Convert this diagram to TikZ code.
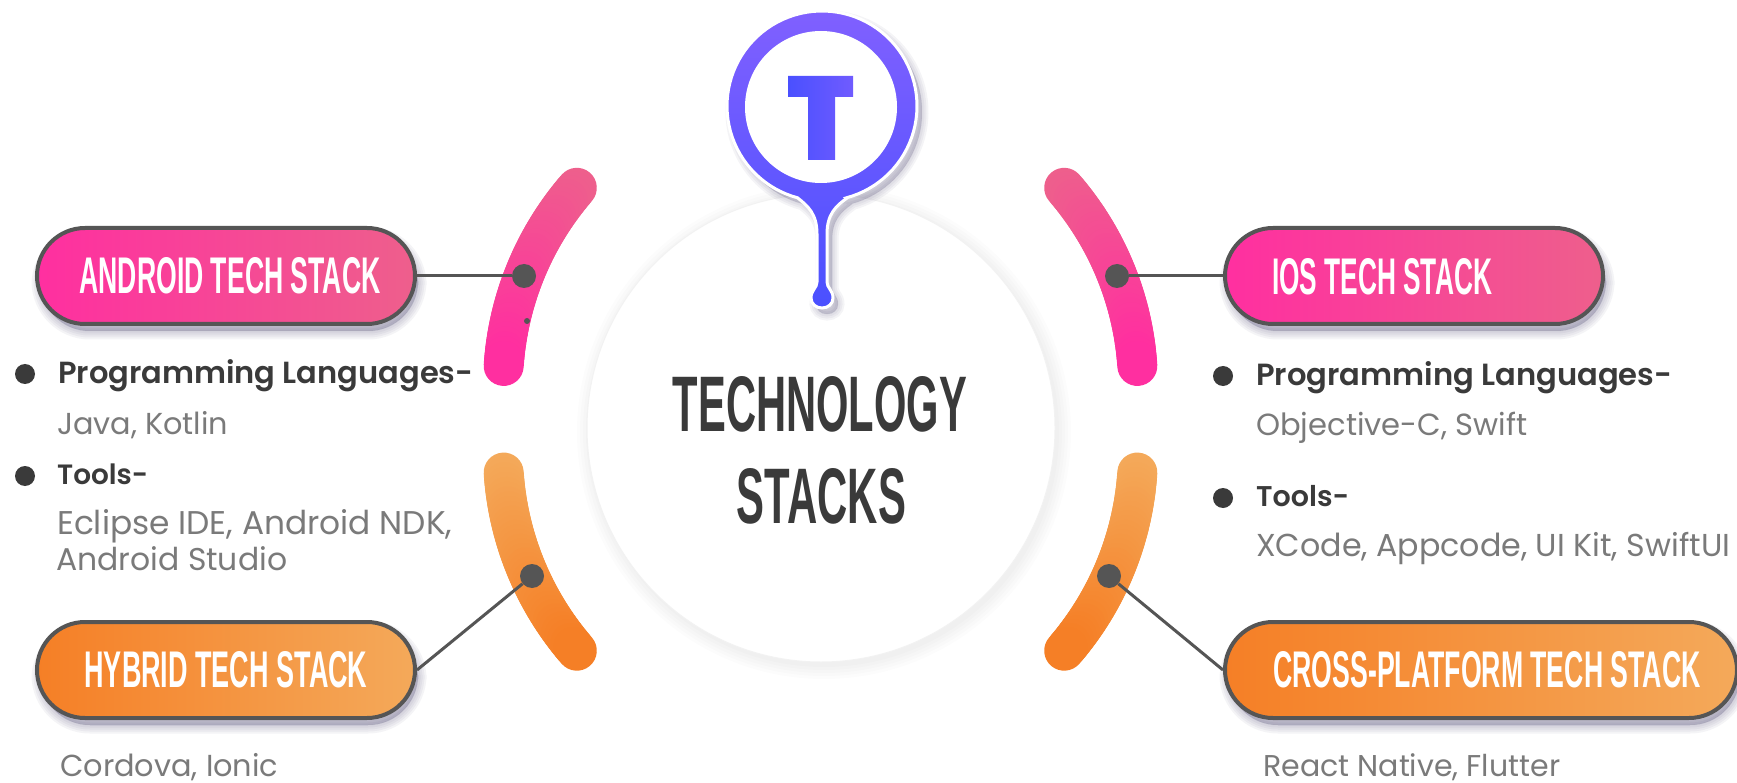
\documentclass[tikz,border=0pt]{standalone}
\usepackage{fontspec}
\usepackage{graphicx}
\setmainfont[BoldFont={Poppins SemiBold}]{Poppins}
\newfontfamily\condfont{Liberation Sans}
\usetikzlibrary{shapes.misc}
\definecolor{pinkL}{HTML}{FF2FA0}
\definecolor{pinkR}{HTML}{EE5F8C}
\definecolor{orngL}{HTML}{F57F26}
\definecolor{orngR}{HTML}{F4A95A}
\definecolor{edgeC}{HTML}{555555}
\definecolor{inkC}{HTML}{3A3A3A}
\definecolor{softC}{HTML}{7A7A7A}
\definecolor{pinT}{HTML}{8060FF}
\definecolor{pinB}{HTML}{4A50FF}
\definecolor{shadeC}{HTML}{4A4470}
\newcommand{\fitw}[2]{\resizebox{#1pt}{!}{#2}}
\newcommand{\capfit}[3]{\resizebox{#1pt}{#2pt}{\condfont\bfseries #3}}
\newcommand{\gradarc}[7]{%
  \foreach \i in {0,...,39}{%
    \pgfmathsetmacro\pa{#4+(#5-#4)*\i/40}%
    \pgfmathsetmacro\pb{#4+(#5-#4)*(\i+1)/40}%
    \pgfmathsetmacro\mixv{100*\i/39}%
    \draw[arcseg,color={#7!\mixv!#6}] ({#1+#3*cos(\pa)},{#2+#3*sin(\pa)}) -- ({#1+#3*cos(\pb)},{#2+#3*sin(\pb)});
  }}
\newcommand{\pillshadow}[4]{%
  \foreach \w in {1,5,9,13,17}{%
    \fill[shadeC,opacity=.06,rounded corners=50pt,shift={(3,7)},line width=\w pt,draw=shadeC] (#1,#2) rectangle (#3,#4);
  }}
\newcommand{\pinoutline}{plot[domain=75:-255,samples=90] ({822+95*cos(\x)},{106+95*sin(\x)}) .. controls (808,206) and (817,214) .. (817,234) -- (817,282) .. controls (817,288) and (811,290) .. (811,298) .. controls (811,304) and (816,308) .. (822,308) .. controls (828,308) and (833,304) .. (833,298) .. controls (833,290) and (827,288) .. (827,282) -- (827,234) .. controls (827,214) and (836,206) .. (847,198) -- cycle}
\tikzset{
  arcseg/.style={line width=40pt,line cap=round},
  pillbase/.style={draw=edgeC,line width=4pt,rounded rectangle,inner sep=0pt,minimum height=96pt},
  pinkpill/.style={pillbase,left color=pinkL,right color=pinkR},
  orngpill/.style={pillbase,left color=orngL,right color=orngR},
  knob/.style={circle,fill=edgeC,inner sep=0pt,minimum size=24pt},
  wire/.style={draw=edgeC,line width=3pt},
  pilltext/.style={inner sep=0pt,text=white},
  head/.style={inner sep=0pt,text=inkC},
  bold/.style={anchor=base west,inner sep=0pt,text=inkC},
  soft/.style={anchor=base west,inner sep=0pt,text=softC},
  bullet/.style={circle,fill=inkC,inner sep=0pt,minimum size=20pt}
}
\begin{document}
\begin{tikzpicture}[x=1pt,y=-1pt]
\useasboundingbox (0,0) rectangle (1737,783);
\fill[white] (0,0) rectangle (1737,783);
% central disc
\foreach \w in {2,8,14,20,26}{\fill[black,opacity=.012] (824,432) circle ({234+\w/2});}
\node[circle,fill=white,draw=black!5,line width=1pt,minimum size=468pt,inner sep=0pt] (disc) at (821,428) {};
% arcs
\gradarc{806}{386}{303}{220.85}{183.8}{pinkR}{pinkL}
\gradarc{806}{452.5}{303}{176.2}{139.15}{orngR}{orngL}
\gradarc{835}{386}{303}{-40.85}{-3.8}{pinkR}{pinkL}
\gradarc{835}{452.5}{303}{3.8}{40.85}{orngR}{orngL}
\fill[edgeC] (527,321) circle (3);
% pills
\pillshadow{37}{228}{415}{324}
\pillshadow{37}{622}{415}{718}
\pillshadow{1225}{228}{1603}{324}
\pillshadow{1225}{622}{1737}{718}
\node[pinkpill,minimum width=378pt] (android) at (226,276) {};
\node[orngpill,minimum width=378pt] (hybrid) at (226,670) {};
\node[pinkpill,minimum width=378pt] (ios) at (1414,276) {};
\node[orngpill,minimum width=512pt] (cross) at (1481,670) {};
\node[knob] (kandroid) at (524,276) {};
\node[knob] (khybrid) at (532,576) {};
\node[knob] (kios) at (1117,276) {};
\node[knob] (kcross) at (1109,576) {};
\draw[wire] (android.east) -- (kandroid);
\draw[wire] (hybrid.east) -- (khybrid);
\draw[wire] (ios.west) -- (kios);
\draw[wire] (cross.west) -- (kcross);
\node[pilltext] (tandroid) at (230,276) {\capfit{301}{36}{ANDROID TECH STACK}};
\node[pilltext] (thybrid) at (226,670) {\capfit{283}{36}{HYBRID TECH STACK}};
\node[pilltext] (tios) at (1382,277) {\capfit{220}{36}{IOS TECH STACK}};
\node[pilltext] (tcross) at (1487,670) {\capfit{427}{36}{CROSS-PLATFORM TECH STACK}};
% pin
\foreach \w in {1,5,9,13}{
\fill[shadeC,opacity=.06,draw=shadeC,line width=\w pt,shift={(5,6)}] \pinoutline;
}
\path[draw=white,line width=3pt,top color=pinT,bottom color=pinB] \pinoutline;
\node[circle,fill=white,minimum size=152pt,inner sep=0pt] (pinface) at (821,107) {};
\path[left color=pinB,right color=pinT!70!pinB] (788,76) -- (853,76) -- (853,97) -- (835,97) -- (835,160) -- (808,160) -- (808,97) -- (788,97) -- cycle;
% title
\node[head] (t1) at (820,404) {\capfit{294}{55}{TECHNOLOGY}};
\node[head] (t2) at (821.5,496) {\capfit{169}{55}{STACKS}};
% left texts
\node[bullet] (b1) at (25,374) {};
\node[bold] (l1) at (58,384) {\fitw{415}{\bfseries Programming Languages-}};
\node[soft] (l2) at (57,434) {\fitw{171}{Java, Kotlin}};
\node[bullet] (b2) at (25,476) {};
\node[bold] (l3) at (57,484) {\fitw{91}{\bfseries Tools-}};
\node[soft] (l4) at (57,534) {\fitw{395}{Eclipse IDE, Android NDK,}};
\node[soft] (l5) at (56,570) {\fitw{231}{Android Studio}};
\node[soft] (l6) at (60,776) {\fitw{218}{Cordova, Ionic}};
% right texts
\node[bullet] (b3) at (1223,376) {};
\node[bold] (r1) at (1256,385) {\fitw{416}{\bfseries Programming Languages-}};
\node[soft] (r2) at (1256,435) {\fitw{271}{Objective-C, Swift}};
\node[bullet] (b4) at (1223,498) {};
\node[bold] (r3) at (1256,506) {\fitw{93}{\bfseries Tools-}};
\node[soft] (r4) at (1256,556) {\fitw{474}{XCode, Appcode, UI Kit, SwiftUI}};
\node[soft] (r5) at (1263,776) {\fitw{297}{React Native, Flutter}};
\end{tikzpicture}
\end{document}
